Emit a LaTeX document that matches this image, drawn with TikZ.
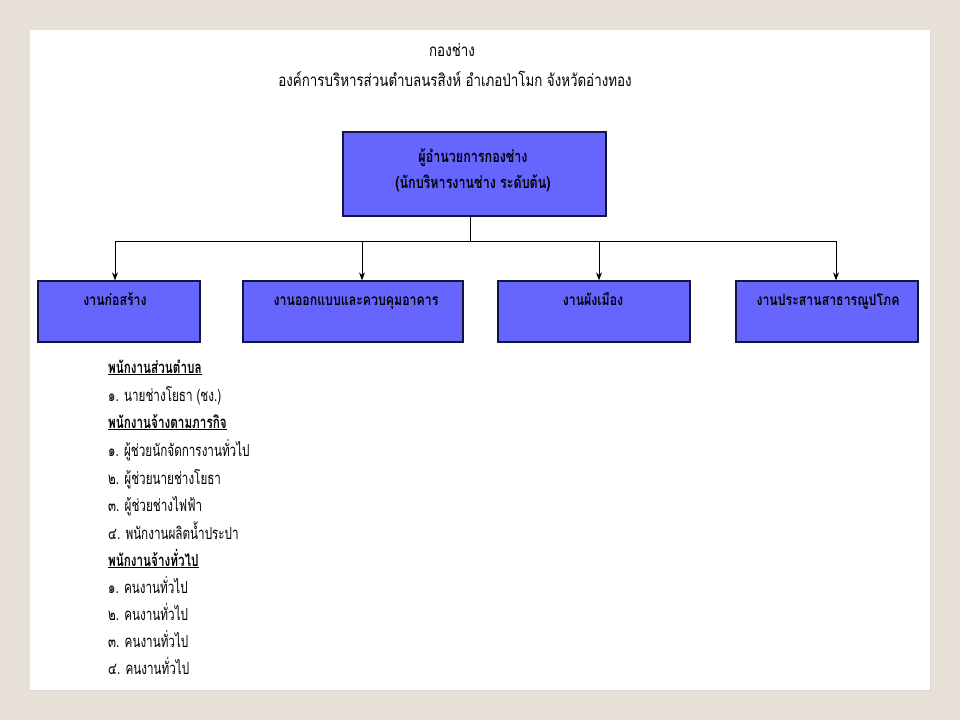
\documentclass[tikz,border=0pt]{standalone}
\usepackage{fontspec}
\setmainfont[Script=Thai]{Loma}
\newfontfamily\titlefont[Script=Thai,FakeStretch=0.785]{Loma}
\newfontfamily\listfont[Script=Thai,FakeStretch=0.70]{Loma}
\newfontfamily\boxfont[Script=Thai,FakeStretch=0.795]{Loma}
\newfontfamily\topfont[Script=Thai,FakeStretch=0.76]{Loma}
\usetikzlibrary{arrows.meta,calc}
\definecolor{bgbeige}{RGB}{230,224,214}
\definecolor{boxblue}{RGB}{102,102,255}
\definecolor{boxedge}{RGB}{20,20,60}
\tikzset{
  box/.style={draw=boxedge, line width=1.3pt, fill=boxblue, inner sep=0pt},
  boxtext/.style={font=\boxfont\bfseries\fontsize{15.5}{18}\selectfont, anchor=base, inner sep=0pt},
  title/.style={font=\titlefont\fontsize{17}{20}\selectfont, anchor=base, inner sep=0pt},
  item/.style={font=\listfont\fontsize{16.7}{20}\selectfont, anchor=base west, inner sep=0pt},
  head/.style={font=\listfont\bfseries\fontsize{16.7}{20}\selectfont, anchor=base west, inner sep=0pt},
  conn/.style={line width=0.9pt, draw=black},
  arr/.style={conn, -{Stealth[length=8pt,width=6pt]}}
}
\begin{document}
\begin{tikzpicture}[x=1pt,y=-1pt]
\useasboundingbox (0,0) rectangle (960,720);
\fill[bgbeige] (0,0) rectangle (960,720);
\fill[black!15] (31,31) rectangle (931,691);
\fill[white] (30,30) rectangle (930,690);

\node[title] (t1) at (452,56) {กองช่าง};
\node[title] (t2) at (455,86) {องค์การบริหารส่วนตำบลนรสิงห์ อำเภอป่าโมก จังหวัดอ่างทอง};

\node[box, minimum width=263, minimum height=84] (top) at (474.5,174) {};
\node[font=\topfont\bfseries\fontsize{16.5}{26}\selectfont, align=center, inner sep=0pt]
      (toptext) at (473,170) {ผู้อำนวยการกองช่าง\\(นักบริหารงานช่าง ระดับต้น)};

\node[box, minimum width=162, minimum height=61] (b1) at (119,311.5) {};
\node[box, minimum width=220, minimum height=61] (b2) at (353,311.5) {};
\node[box, minimum width=192, minimum height=61] (b3) at (594,311.5) {};
\node[box, minimum width=182, minimum height=61] (b4) at (827,311.5) {};

\node[boxtext] (l1) at ($(b1.north)+(-4,25)$) {งานก่อสร้าง};
\node[boxtext] (l2) at ($(b2.north)+(3,25)$) {งานออกแบบและควบคุมอาคาร};
\node[boxtext] (l3) at ($(b3.north)+(-1,25)$) {งานผังเมือง};
\node[boxtext] (l4) at ($(b4.north)+(1,25)$) {งานประสานสาธารณูปโภค};

\coordinate (bus) at ($(top.south)+(-4.5,25)$);
\draw[conn] (top.south -| bus) -- (bus);
\draw[conn] (115,241) -- (836,241);
\draw[arr] (bus) -| ([xshift=-4]b1.north);
\draw[arr] (bus) -| ([xshift=9]b2.north);
\draw[arr] (bus) -| ([xshift=5]b3.north);
\draw[arr] (bus) -| ([xshift=9]b4.north);

\node[head] (h1) at (108,373) {\underline{พนักงานส่วนตำบล}};
\node[item] (i1) at (108,401) {๑. นายช่างโยธา (ชง.)};
\node[head] (h2) at (108,428) {\underline{พนักงานจ้างตามภารกิจ}};
\node[item] (i2) at (108,456) {๑. ผู้ช่วยนักจัดการงานทั่วไป};
\node[item] (i3) at (108,484) {๒. ผู้ช่วยนายช่างโยธา};
\node[item] (i4) at (108,511) {๓. ผู้ช่วยช่างไฟฟ้า};
\node[item] (i5) at (108,539) {๔. พนักงานผลิตน้ำประปา};
\node[head] (h3) at (108,566) {\underline{พนักงานจ้างทั่วไป}};
\node[item] (i6) at (108,593) {๑. คนงานทั่วไป};
\node[item] (i7) at (108,620) {๒. คนงานทั่วไป};
\node[item] (i8) at (108,647) {๓. คนงานทั่วไป};
\node[item] (i9) at (108,674) {๔. คนงานทั่วไป};
\end{tikzpicture}
\end{document}
